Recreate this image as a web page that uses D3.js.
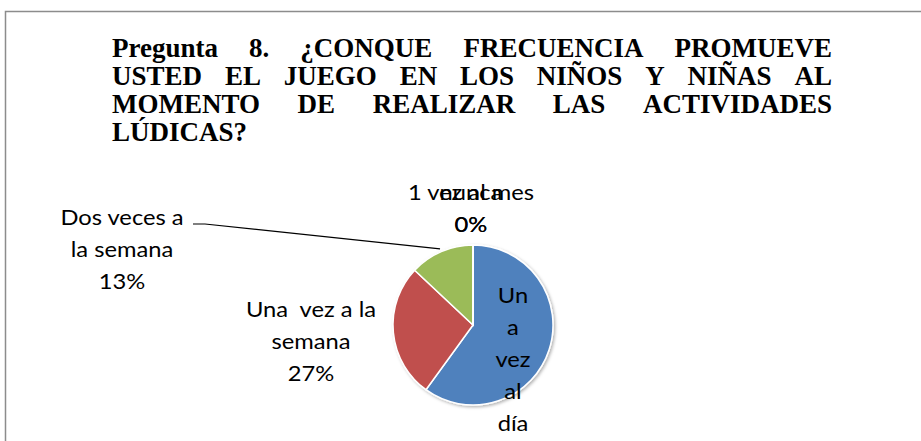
<!DOCTYPE html>
<html>
<head>
	<meta charset="utf-8">
	<script src="https://d3js.org/d3.v7.min.js"></script>
	<style type="text/css">
		body { margin: 0; background: #fff; }
		.title { font-family: "Liberation Serif", "Times New Roman", serif; font-weight: bold; font-size: 27px; fill: #000; }
		.lbl { font-family: Lato, "Open Sans", sans-serif; font-size: 21px; fill: #000; white-space: pre; }
	</style>
</head>
<body>
<script>
    // chart data
    var categories = ["Un a vez al día", "Una  vez a la semana", "Dos veces a la semana", "1 vez al mes", "nunca"];
    var values = [60, 27, 13, 0, 0];
    var colors = ["#4F81BD", "#C0504D", "#9BBB59", "#8064A2", "#4BACC6"];

    var titleLines = [
        "Pregunta 8. ¿CONQUE FRECUENCIA PROMUEVE",
        "USTED EL JUEGO EN LOS NIÑOS Y NIÑAS AL",
        "MOMENTO DE REALIZAR LAS ACTIVIDADES",
        "LÚDICAS?"
    ];

    // how each category label was wrapped and placed in the original
    var labelLayout = [
        {lines: ["Un", "a", "vez", "al", "día"], x: 513, y: 303},
        {lines: ["Una  vez a la", "semana"], x: 311, y: 317},
        {lines: ["Dos veces a", "la semana"], x: 122, y: 225},
        {lines: ["1 vez al mes"], x: 471, y: 200},
        {lines: ["nunca"], x: 471, y: 200}
    ];

    var width = 921, height = 441;
    var cx = 473, cy = 325, r = 80;
    var lineH = 32;
    var stretch = 1.13;   // the original label text is a bit wider than the fonts here

    var svg = d3.select("body").append("svg")
        .attr("width", width)
        .attr("height", height);

    // chart frame
    svg.append("rect")
        .attr("x", 5.5).attr("y", 11.5)
        .attr("width", 1000).attr("height", 1000)
        .style("fill", "none")
        .style("stroke", "#8c8c8c")
        .style("stroke-width", 1.5);

    // justified title
    var tLeft = 112, tRight = 832, tBase = 57, tStep = 28;
    titleLines.forEach(function(line, i) {
        var words = line.split(" ");
        var g = svg.append("g");
        var nodes = words.map(function(w) {
            return g.append("text").attr("class", "title").attr("y", tBase + i * tStep).text(w);
        });
        var widths = nodes.map(function(n) { return n.node().getComputedTextLength(); });
        var last = i === titleLines.length - 1;
        var gap = last ? 7 : (tRight - tLeft - d3.sum(widths)) / (words.length - 1);
        var x = tLeft;
        nodes.forEach(function(n, j) {
            n.attr("x", x);
            x += widths[j] + gap;
        });
    });

    var pie = d3.pie().sort(null).value(function(d) { return d; });
    var arc = d3.arc().innerRadius(0).outerRadius(r);
    var arcs = pie(values);

    var defs = svg.append("defs");
    var f = defs.append("filter").attr("id", "shadow").attr("x", "-20%").attr("y", "-20%").attr("width", "140%").attr("height", "140%");
    f.append("feDropShadow").attr("dx", 1.5).attr("dy", 1.5).attr("stdDeviation", 1.5).attr("flood-color", "#000").attr("flood-opacity", 0.3);

    var pieG = svg.append("g")
        .attr("transform", "translate(" + cx + "," + cy + ")");

    pieG.append("g").attr("filter", "url(#shadow)")
        .selectAll("path")
        .data(arcs)
        .enter()
        .append("path")
        .attr("d", arc)
        .style("fill", function(d, i) { return colors[i]; })
        .style("stroke", "#fff")
        .style("stroke-width", 1.5);

    // leader line for "Dos veces a la semana", ending just outside the green slice
    var a2 = arcs[2];
    var mid = (a2.startAngle + a2.endAngle) / 2;
    var edge = [cx + Math.sin(mid) * (r + 3), cy - Math.cos(mid) * (r + 3)];
    svg.append("path")
        .attr("d", d3.line()([[193, 224], [205, 224], edge]))
        .style("fill", "none")
        .style("stroke", "#000")
        .style("stroke-width", 1.2);

    var pct = d3.format(".0%");
    var total = d3.sum(values);

    labelLayout.forEach(function(lay, i) {
        var lines = lay.lines.slice();
        if (i !== 0) lines.push(pct(values[i] / total));
        var t = svg.append("text")
            .attr("class", "lbl")
            .attr("text-anchor", "middle")
            .attr("transform", "translate(" + lay.x + "," + lay.y + ") scale(" + stretch + ",1)");
        lines.forEach(function(l, j) {
            t.append("tspan")
                .attr("x", 0)
                .attr("y", j * lineH)
                .text(l);
        });
    });
</script>
</body>
</html>
